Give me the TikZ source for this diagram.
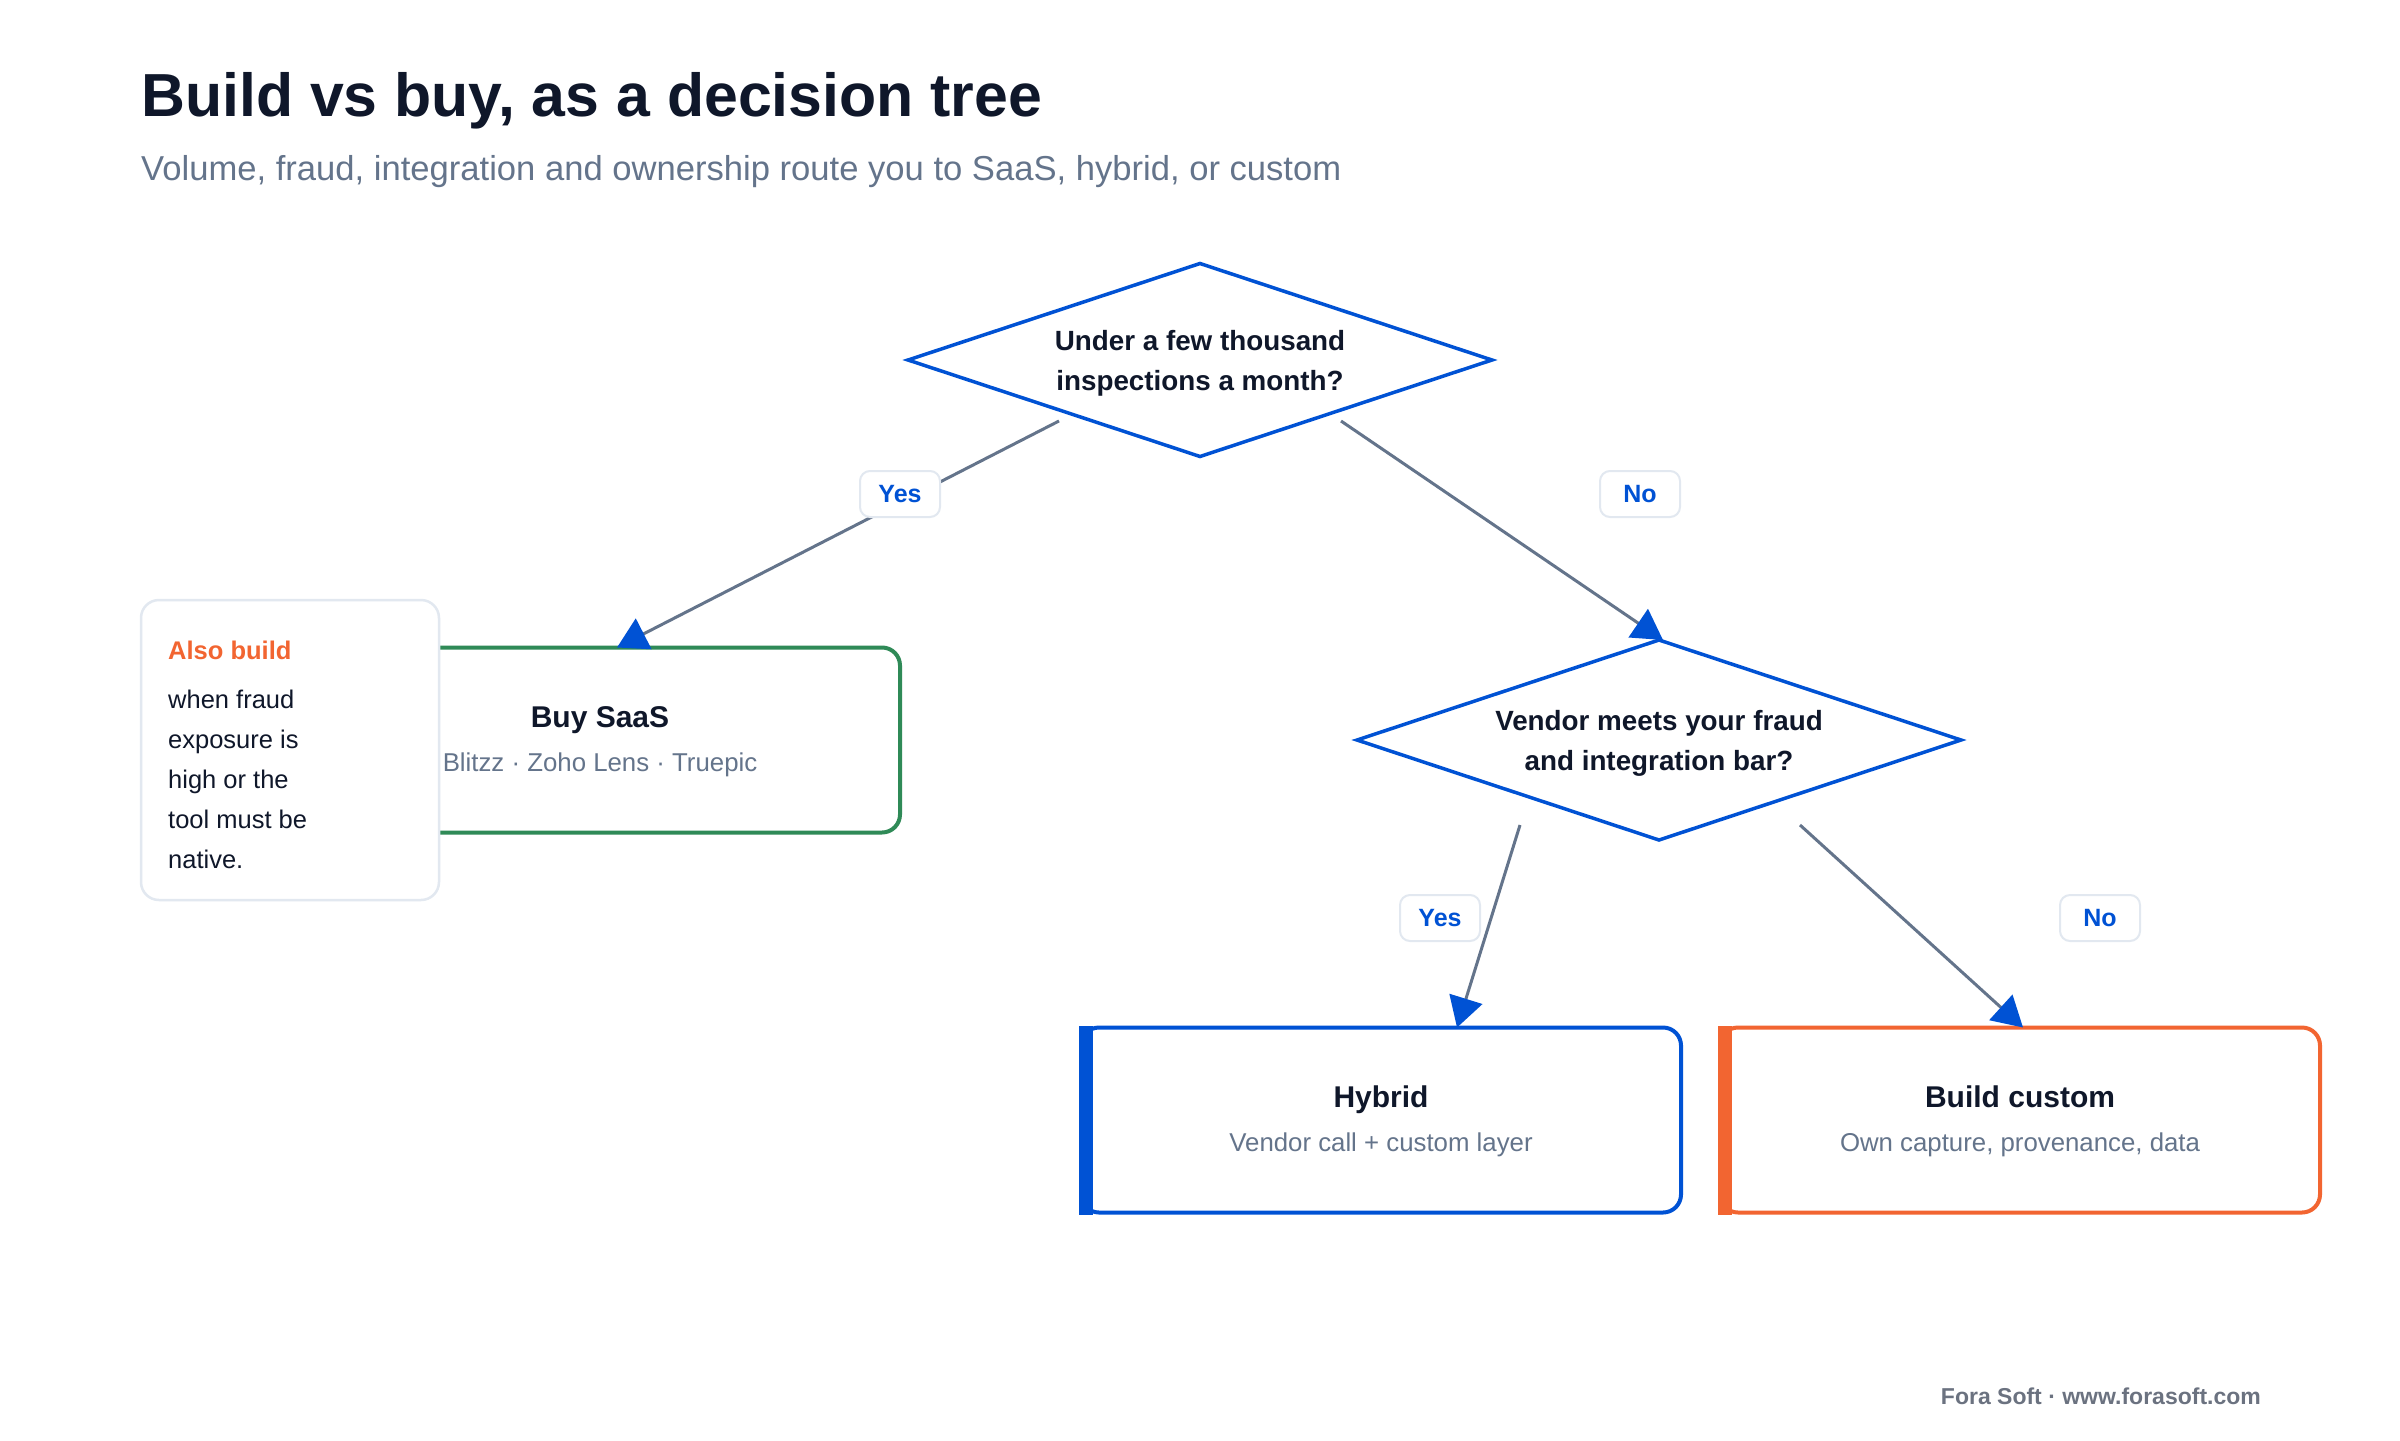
\documentclass[tikz,border=0pt]{standalone}
\usepackage{fontspec}
\setmainfont{Liberation Sans}
\usetikzlibrary{shapes.geometric,arrows.meta}
\definecolor{ink}{HTML}{0F172A}
\definecolor{slate}{HTML}{64748B}
\definecolor{bblue}{HTML}{0052D4}
\definecolor{bgreen}{HTML}{2F8A57}
\definecolor{borange}{HTML}{F26531}
\definecolor{hair}{HTML}{E2E8F0}
\definecolor{foot}{HTML}{6B7280}
\newcommand\myfs[2]{\fontsize{#1}{#2}\selectfont}
\begin{document}
\begin{tikzpicture}[x=1pt,y=-1pt,
 decision/.style={diamond, aspect=3, draw=bblue, line width=3.5pt, fill=white, inner sep=0pt, outer sep=0pt, align=center, text depth=0pt, text=ink, font=\myfs{27.8}{40}\bfseries},
 outcome/.style={rectangle, rounded corners=18pt, line width=4pt, fill=white, minimum width=600pt, minimum height=185pt, inner sep=0pt, outer sep=0pt},
 otitle/.style={anchor=base, inner sep=0pt, text=ink, font=\myfs{30}{36}\bfseries},
 osub/.style={anchor=base, inner sep=0pt, text=slate, font=\myfs{25.8}{30}},
 tag/.style={rectangle, rounded corners=10pt, draw=hair, line width=2pt, fill=white, minimum width=80pt, minimum height=46pt, inner sep=0pt, text=bblue, font=\myfs{25}{30}\bfseries},
 conn/.style={draw=slate, line width=3pt, -{Triangle[length=30pt,width=34pt,color=bblue]}},
 ]
\useasboundingbox[fill=white] (0,0) rectangle (2400,1440);

% titles
\node (title) [anchor=base west, inner sep=0pt, text=ink, font=\myfs{60.8}{72}\bfseries] at (141,116) {Build vs buy, as a decision tree};
\node (subtitle) [anchor=base west, inner sep=0pt, text=slate, font=\myfs{34.6}{40}] at (141,180) {Volume, fraud, integration and ownership route you to SaaS, hybrid, or custom};

% decisions
\node (q1) [decision, minimum width=584pt, minimum height=193pt] at (1200,360) {Under a few thousand\\inspections a month?};
\node (q2) [decision, minimum width=604pt, minimum height=200pt] at (1659,740) {Vendor meets your fraud\\and integration bar?};

% outcomes
\node (buy) [outcome, draw=bgreen] at (600,740) {};
\node (buyT) [otitle] at ([yshift=13pt]buy.center) {Buy SaaS};
\node (buyS) [osub] at ([yshift=-31pt]buy.center) {Blitzz · Zoho Lens · Truepic};

\node (hyb) [outcome, draw=bblue] at (1381,1120) {};
\fill[bblue] ([shift={(-2pt,-2pt)}]hyb.south west) rectangle ([shift={(12pt,2pt)}]hyb.north west);
\node (hybT) [otitle] at ([yshift=13pt]hyb.center) {Hybrid};
\node (hybS) [osub] at ([yshift=-31pt]hyb.center) {Vendor call + custom layer};

\node (cus) [outcome, draw=borange] at (2020,1120) {};
\fill[borange] ([shift={(-2pt,-2pt)}]cus.south west) rectangle ([shift={(12pt,2pt)}]cus.north west);
\node (cusT) [otitle] at ([yshift=13pt]cus.center) {Build custom};
\node (cusS) [osub] at ([yshift=-31pt]cus.center) {Own capture, provenance, data};

% callout
\node (note) [rectangle, rounded corners=18pt, draw=hair, line width=2.5pt, fill=white, minimum width=298pt, minimum height=300pt, inner sep=0pt, outer sep=0pt] at (290,750) {};
\node (noteH) [anchor=base west, inner sep=0pt, text=borange, font=\myfs{25.5}{30}\bfseries] at (168,659) {Also build};
\node (noteB) [anchor=north west, inner sep=0pt, align=left, text=ink, font=\myfs{25.5}{40}] at (168,690) {when fraud\\exposure is\\high or the\\tool must be\\native.};

% connectors
\coordinate (a1) at (1059,421);
\coordinate (b1) at ([xshift=317pt]buy.north west);
\coordinate (a2) at (1341,421);
\coordinate (b2) at ([xshift=4pt]q2.north);
\coordinate (a3) at (1520,825);
\coordinate (b3) at ([xshift=376pt]hyb.north west);
\coordinate (a4) at (1800,825);
\coordinate (b4) at ([xshift=303pt]cus.north west);
\draw[conn] (a1) -- (b1);
\draw[conn] (a2) -- (b2);
\draw[conn] (a3) -- (b3);
\draw[conn] (a4) -- (b4);

% branch labels
\node (y1) [tag] at (900,494) {Yes};
\node (n1) [tag] at (1640,494) {No};
\node (y2) [tag] at (1440,918) {Yes};
\node (n2) [tag] at (2100,918) {No};

% footer
\node (footer) [anchor=base east, inner sep=0pt, text=foot, font=\myfs{23}{28}\bfseries] at (2261,1404) {Fora Soft · www.forasoft.com};
\end{tikzpicture}
\end{document}
